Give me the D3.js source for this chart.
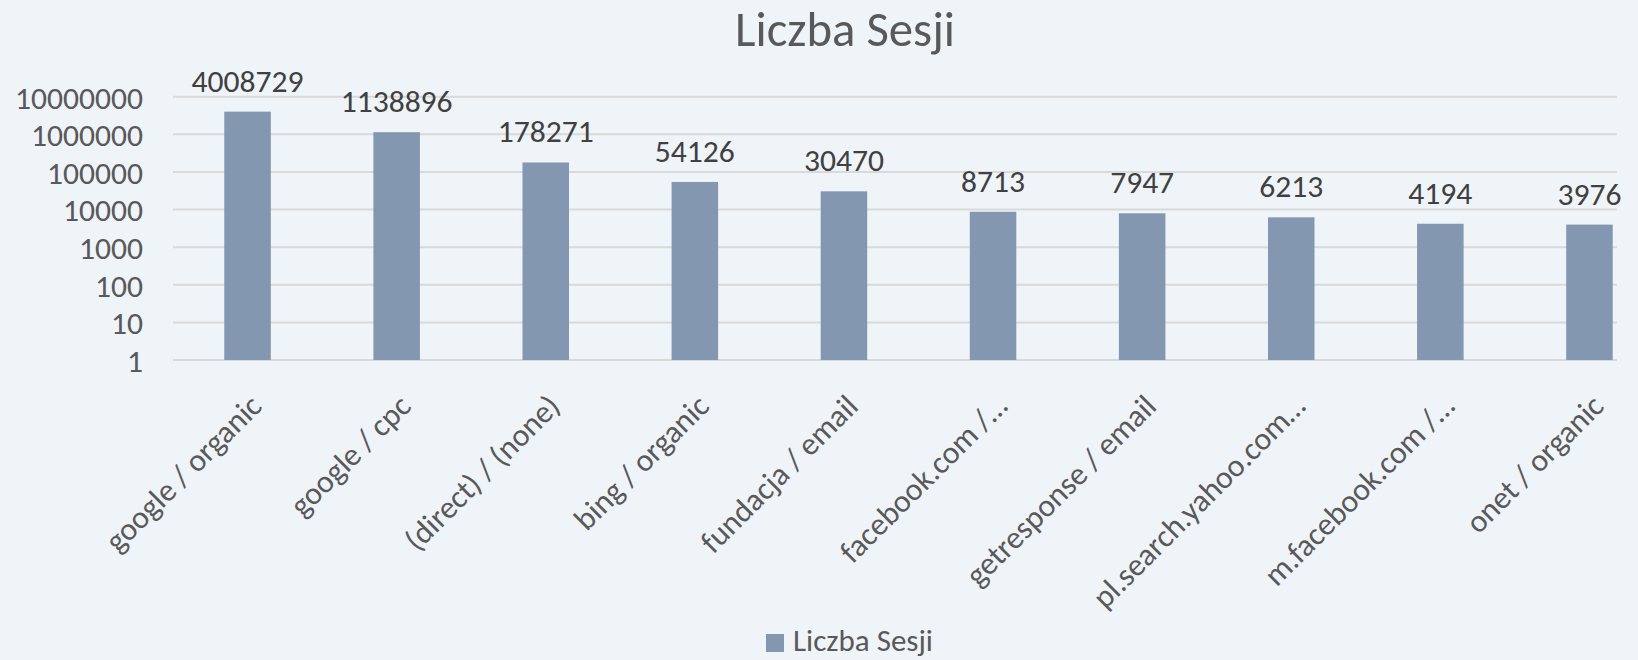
<!DOCTYPE html>
<html lang="pl">
<head>
    <meta charset="UTF-8">
    <title>Liczba Sesji</title>
    <script src="https://d3js.org/d3.v7.min.js"></script>
    <style>
        html, body { margin: 0; padding: 0; background: #eff4f9; }
        svg { display: block; font-family: Carlito, Lato, "Open Sans", sans-serif; }
        .grid line { stroke: #d9d9d9; stroke-width: 2; }
        .axis-label { fill: #595959; }
        .value-label { fill: #404040; }
    </style>
</head>
<body>
    <svg width="1638" height="660"></svg>

    <script>
        // Dane
        const categories = [
            "google / organic", "google / cpc", "(direct) / (none)", "bing / organic",
            "fundacja / email", "facebook.com /…", "getresponse / email",
            "pl.search.yahoo.com…", "m.facebook.com /…", "onet / organic"
        ];
        const sessions = [4008729, 1138896, 178271, 54126, 30470, 8713, 7947, 6213, 4194, 3976];
        const yTicks = [1, 10, 100, 1000, 10000, 100000, 1000000, 10000000];
        const title = "Liczba Sesji";
        const seriesName = "Liczba Sesji";

        const data = categories.map((c, i) => ({ name: c, value: sessions[i] }));

        const margin = { top: 96.7, left: 173, right: 1617, bottom: 360 };
        const barColor = "#8497b0";

        const svg = d3.select("svg");

        // dobór rozmiaru czcionki tak, by szerokość tekstu odpowiadała oryginałowi
        function fitSize(sample, targetWidth) {
            const t = svg.append("text").style("font-size", "100px").text(sample);
            const w = t.node().getComputedTextLength();
            t.remove();
            return 100 * targetWidth / w;
        }
        const labelSize = fitSize("10000000", 128);
        const titleSize = fitSize(title, 220);
        const legendSize = fitSize(seriesName, 140);

        const x = d3.scaleBand()
            .domain(categories)
            .range([margin.left, margin.left + 149.1 * categories.length]);

        const y = d3.scaleLog()
            .domain([1, 10000000])
            .range([margin.bottom, margin.top]);

        // Linie siatki
        svg.append("g")
            .attr("class", "grid")
            .selectAll("line")
            .data(yTicks)
            .join("line")
            .attr("x1", margin.left)
            .attr("x2", margin.right)
            .attr("y1", d => y(d))
            .attr("y2", d => y(d));

        // Oś Y
        const yAxis = d3.axisLeft(y)
            .tickValues(yTicks)
            .tickFormat(d3.format("d"))
            .tickSize(0)
            .tickPadding(30);
        svg.append("g")
            .attr("transform", `translate(${margin.left}, 0)`)
            .call(yAxis)
            .attr("font-family", null)
            .attr("font-size", null)
            .call(g => g.select(".domain").remove())
            .selectAll("text")
            .attr("class", "axis-label")
            .attr("dy", "0.36em")
            .style("font-size", labelSize + "px");

        // Słupki
        const barW = x.bandwidth() * 0.312;
        svg.append("g")
            .selectAll("rect")
            .data(data)
            .join("rect")
            .attr("x", d => x(d.name) + x.bandwidth() / 2 - barW / 2)
            .attr("y", d => y(d.value))
            .attr("width", barW)
            .attr("height", d => y(1) - y(d.value))
            .attr("fill", barColor);

        // Etykiety wartości
        svg.append("g")
            .selectAll("text")
            .data(data)
            .join("text")
            .attr("class", "value-label")
            .attr("x", d => x(d.name) + x.bandwidth() / 2)
            .attr("y", d => y(d.value) - 20)
            .attr("text-anchor", "middle")
            .style("font-size", labelSize + "px")
            .text(d => d.value);

        // Oś X (etykiety obrócone)
        const xAxis = d3.axisBottom(x).tickSize(0).tickPadding(0);
        svg.append("g")
            .attr("transform", `translate(0, ${margin.bottom})`)
            .call(xAxis)
            .attr("font-family", null)
            .attr("font-size", null)
            .call(g => g.select(".domain").remove())
            .selectAll("text")
            .attr("class", "axis-label")
            .style("font-size", labelSize + "px")
            .attr("dy", null)
            .attr("y", 0)
            .attr("text-anchor", "end")
            .attr("transform", "translate(16, 48) rotate(-45)");

        // Tytuł
        svg.append("text")
            .attr("x", 845)
            .attr("y", 46)
            .attr("text-anchor", "middle")
            .style("font-size", titleSize + "px")
            .style("fill", "#595959")
            .text(title);

        // Legenda
        const legend = svg.append("g").attr("transform", "translate(766, 634)");
        legend.append("rect")
            .attr("width", 18)
            .attr("height", 18)
            .attr("fill", barColor);
        legend.append("text")
            .attr("class", "axis-label")
            .attr("x", 27)
            .attr("y", 17)
            .style("font-size", legendSize + "px")
            .text(seriesName);
    </script>
</body>
</html>
